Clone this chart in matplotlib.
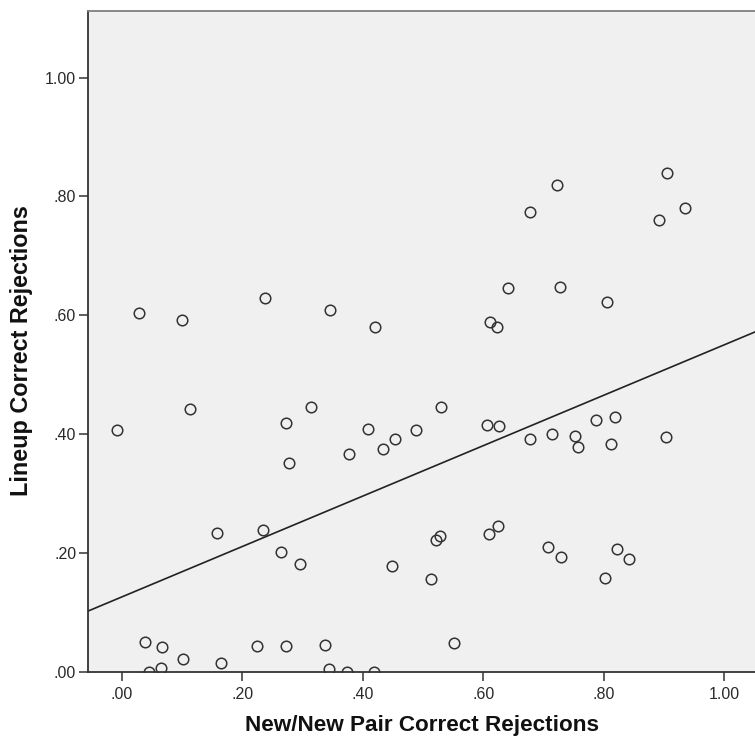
import matplotlib
matplotlib.use("Agg")
import matplotlib.pyplot as plt
import numpy as np

plt.rcParams['font.family'] = ['Liberation Sans', 'DejaVu Sans']

# New/New pair correct rejections (x) vs lineup correct rejections (y)
newnew_cr = [
    0.905, 0.722, 0.678, 0.892, 0.935,
    0.642, 0.727, 0.805, 0.612, 0.623, 0.421,
    0.028, 0.100, 0.238, 0.346,
    -0.009, 0.113, 0.272, 0.314, 0.277, 0.377, 0.409, 0.433, 0.453, 0.488,
    0.530, 0.607, 0.627, 0.677, 0.714, 0.752, 0.757, 0.788, 0.819, 0.812, 0.904,
    0.157, 0.234, 0.264, 0.296, 0.449, 0.529, 0.522, 0.625, 0.610, 0.708,
    0.730, 0.823, 0.842, 0.802, 0.513, 0.551,
    0.038, 0.066, 0.102, 0.164, 0.224, 0.272, 0.337, 0.044, 0.065, 0.344,
    0.373, 0.418,
]
lineup_cr = [
    0.840, 0.820, 0.773, 0.760, 0.780,
    0.646, 0.647, 0.622, 0.588, 0.580, 0.580,
    0.604, 0.592, 0.629, 0.608,
    0.406, 0.442, 0.419, 0.445, 0.352, 0.366, 0.408, 0.374, 0.391, 0.407,
    0.446, 0.415, 0.414, 0.391, 0.400, 0.396, 0.378, 0.424, 0.429, 0.384, 0.395,
    0.234, 0.239, 0.201, 0.181, 0.178, 0.229, 0.221, 0.246, 0.231, 0.210,
    0.193, 0.207, 0.190, 0.158, 0.156, 0.049,
    0.050, 0.041, 0.022, 0.015, 0.043, 0.044, 0.045, 0.000, 0.006, 0.005,
    0.000, 0.000,
]

# fit line
fit_intercept = 0.126
fit_slope = 0.424

ticks = [0.0, 0.2, 0.4, 0.6, 0.8, 1.0]
tick_labels = ['.00', '.20', '.40', '.60', '.80', '1.00']

fig = plt.figure(figsize=(7.55, 7.40), dpi=100)
ax = fig.add_axes([0.1166, 0.0923, 0.8834, 0.8928])
ax.set_facecolor('#f0f0f0')

xlim = (-0.0565, 1.0515)
ax.set_xlim(xlim)
ax.set_ylim(0, 1.112)

ax.plot(newnew_cr, lineup_cr, 'o', markersize=7.6, markerfacecolor='none',
        markeredgecolor='#333333', markeredgewidth=1.1, zorder=3)

xs = np.array(xlim)
ax.plot(xs, fit_intercept + fit_slope * xs, color='#222222', linewidth=1.2, zorder=2)

ax.set_xticks(ticks)
ax.set_xticklabels(tick_labels)
ax.set_yticks(ticks)
ax.set_yticklabels(tick_labels)
ax.tick_params(axis='both', direction='out', length=6.5, width=1.1,
               color='#333333', labelsize=11.5, labelcolor='#2a2a2a')
ax.tick_params(axis='y', pad=2)
ax.tick_params(axis='x', pad=4.5)

for side in ['left', 'bottom']:
    ax.spines[side].set_color('#333333')
    ax.spines[side].set_linewidth(1.3)
ax.spines['top'].set_color('#808080')
ax.spines['top'].set_linewidth(1.3)
ax.spines['right'].set_visible(False)

ax.set_xlabel('New/New Pair Correct Rejections', fontsize=16.2, fontweight='bold',
              color='#111111')
ax.set_ylabel('Lineup Correct Rejections', fontsize=16.8, fontweight='bold',
              color='#111111')
ax.xaxis.set_label_coords(0.5, -0.0656)
ax.yaxis.set_label_coords(-0.082, 0.486)

fig.savefig('out.png', dpi=100)
